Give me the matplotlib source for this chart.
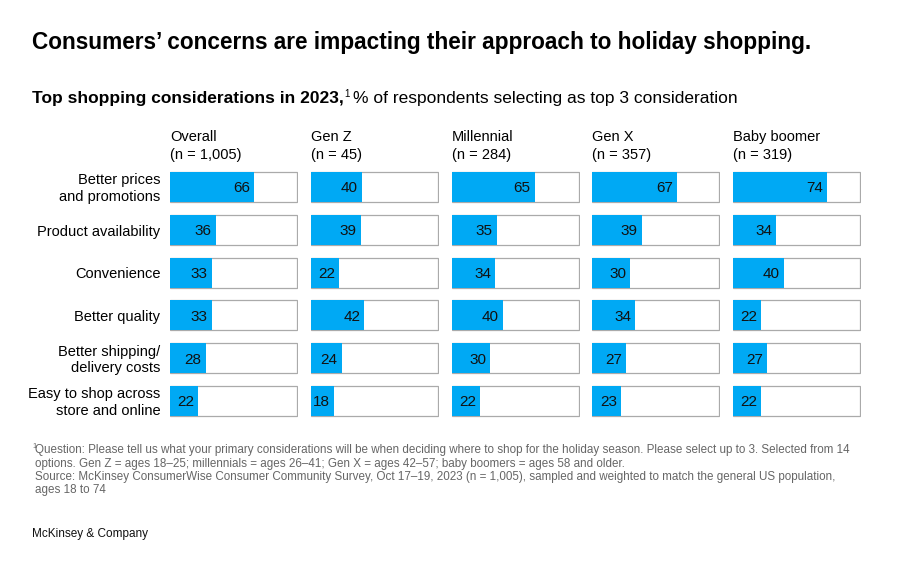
import matplotlib
matplotlib.use("Agg")
import matplotlib.pyplot as plt

plt.rcParams['font.family'] = ['Liberation Sans', 'DejaVu Sans']

# data
groups = ["Overall", "Gen Z", "Millennial", "Gen X", "Baby boomer"]
group_n = ["(n = 1,005)", "(n = 45)", "(n = 284)", "(n = 357)", "(n = 319)"]
considerations = ["Better prices\nand promotions", "Product availability", "Convenience",
                  "Better quality", "Better shipping/\ndelivery costs",
                  "Easy to shop across\nstore and online"]
overall = [66, 36, 33, 33, 28, 22]
gen_z = [40, 39, 22, 42, 24, 18]
millennial = [65, 35, 34, 40, 30, 22]
gen_x = [67, 39, 30, 34, 27, 23]
boomer = [74, 34, 40, 22, 27, 22]
series = [overall, gen_z, millennial, gen_x, boomer]

BLUE = "#00A9F4"
EDGE = "#aaaaaa"
W, H = 900, 573

fig = plt.figure(figsize=(W / 100, H / 100), dpi=100)
fig.patch.set_facecolor("white")

fig.text(32 / W, 1 - 43 / H, "Consumers\u2019 concerns are impacting their approach to holiday shopping.",
         fontsize=16.3, fontweight="bold", va="center", ha="left")

# subtitle in pieces
renderer = fig.canvas.get_renderer()
t1 = fig.text(32 / W, 1 - 99 / H, "Top shopping considerations in 2023,", fontsize=12.5,
              fontweight="bold", va="center", ha="left")
bb = t1.get_window_extent(renderer)
t2 = fig.text(bb.x1 / W + 1 / W, 1 - 94 / H, "1", fontsize=7, va="center", ha="left")
bb2 = t2.get_window_extent(renderer)
fig.text(bb2.x1 / W + 3 / W, 1 - 99 / H, "% of respondents selecting as top 3 consideration",
         fontsize=12.5, va="center", ha="left")

panel_left = [170, 311, 452, 592, 733]
panel_w = 128
row_step = 42.8
ax_top = 187 - row_step / 2
ax_h = row_step * 6

rows = list(range(len(considerations)))
for i, (name, n, vals) in enumerate(zip(groups, group_n, series)):
    ax = fig.add_axes([panel_left[i] / W, 1 - (ax_top + ax_h) / H, panel_w / W, ax_h / H])
    ax.barh(rows, [100] * len(rows), height=0.70, color="white", edgecolor=EDGE, linewidth=0.9, zorder=1)
    ax.barh(rows, vals, height=0.70, color=BLUE, edgecolor="none", zorder=2)
    for r, v in zip(rows, vals):
        ax.annotate(str(v), (v, r), xytext=(-3, -1), textcoords="offset points",
                    ha="right", va="center", fontsize=11, color="#111111", zorder=3)
    ax.set_xlim(0, 100.6)
    ax.set_ylim(5.5, -0.5)
    ax.axis("off")
    fig.text(panel_left[i] / W, 1 - 137 / H, name, fontsize=10.5, va="center", ha="left")
    fig.text(panel_left[i] / W, 1 - 155 / H, n, fontsize=10.5, va="center", ha="left")
    if i == 0:
        for r, lab in zip(rows, considerations):
            ax.text(-0.075, r + 0.04, lab, transform=ax.get_yaxis_transform(), ha="right", va="center",
                    fontsize=10.5, linespacing=1.25)

foot = "#666666"
fig.text(32 / W, 1 - 446 / H, "1", fontsize=5.5, color=foot, va="center", ha="left")
foot_lines = [
    "Question: Please tell us what your primary considerations will be when deciding where to shop for the holiday season. Please select up to 3. Selected from 14",
    "options. Gen Z = ages 18\u201325; millennials = ages 26\u201341; Gen X = ages 42\u201357; baby boomers = ages 58 and older.",
    "Source: McKinsey ConsumerWise Consumer Community Survey, Oct 17\u201319, 2023 (n = 1,005), sampled and weighted to match the general US population,",
    "ages 18 to 74",
]
for k, line in enumerate(foot_lines):
    fig.text(35 / W, 1 - (450 + k * 13.5) / H, line, fontsize=8.4, color=foot, va="center", ha="left")

fig.text(32 / W, 1 - 534 / H, "McKinsey & Company", fontsize=8.5, color="#111111", va="center", ha="left")

fig.savefig("out.png", dpi=100, facecolor="white")
